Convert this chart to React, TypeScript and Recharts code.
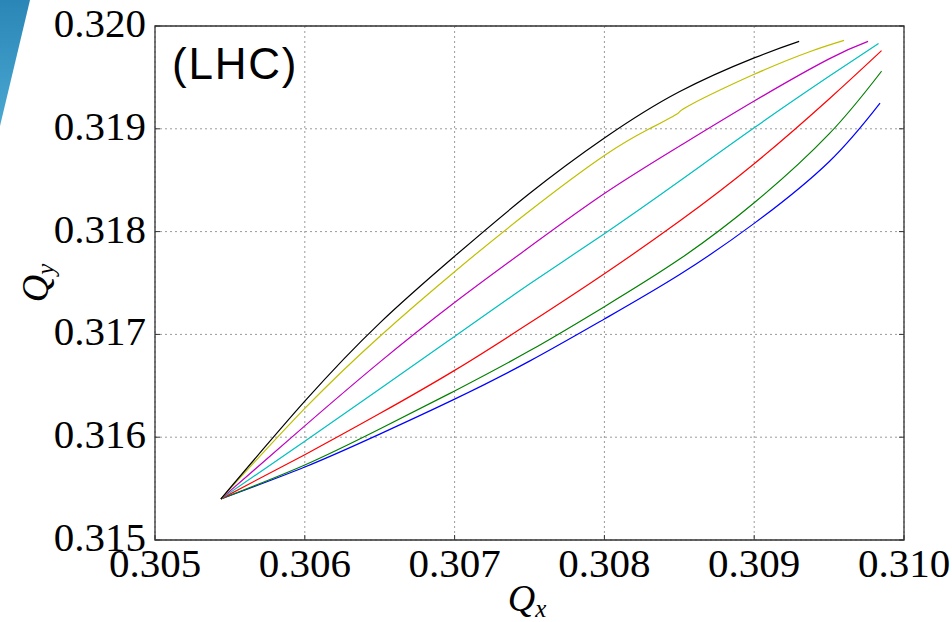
import React from 'react';
import { LineChart, Line, XAxis, YAxis, CartesianGrid, ReferenceArea } from 'recharts';

// tune footprint curves, Qx / Qy for each amplitude ratio
const xTicks = [0.305, 0.306, 0.307, 0.308, 0.309, 0.31];
const yTicks = [0.315, 0.316, 0.317, 0.318, 0.319, 0.32];

const qxBlack = [0.30544, 0.306, 0.3065, 0.307, 0.3075, 0.308, 0.3085, 0.309, 0.3093];
const qyBlack = [0.3154, 0.31635, 0.31711, 0.31776, 0.31837, 0.31891, 0.31936, 0.31969, 0.31985];

const qxYellow = [0.30544, 0.306, 0.3065, 0.307, 0.3075, 0.308, 0.3083, 0.30849, 0.30857, 0.309, 0.30937, 0.3096];
const qyYellow = [0.3154, 0.31628, 0.31698, 0.31761, 0.3182, 0.31874, 0.319, 0.31915, 0.31923, 0.31953, 0.31975, 0.31986];

const qxMagenta = [0.30544, 0.306, 0.3065, 0.307, 0.3075, 0.308, 0.3085, 0.309, 0.3095, 0.30976];
const qyMagenta = [0.3154, 0.31611, 0.31673, 0.31731, 0.31785, 0.31837, 0.31883, 0.31927, 0.31968, 0.31985];

const qxCyan = [0.30544, 0.306, 0.3065, 0.307, 0.3075, 0.308, 0.3085, 0.309, 0.3095, 0.30983];
const qyCyan = [0.3154, 0.31596, 0.31647, 0.31698, 0.31749, 0.31798, 0.31849, 0.31901, 0.31951, 0.31983];

const qxRed = [0.30544, 0.306, 0.3065, 0.307, 0.3075, 0.308, 0.3085, 0.309, 0.3095, 0.30985];
const qyRed = [0.3154, 0.31583, 0.31623, 0.31665, 0.31711, 0.31759, 0.3181, 0.31866, 0.31929, 0.31976];

const qxGreen = [0.30544, 0.306, 0.3065, 0.307, 0.3075, 0.308, 0.3085, 0.309, 0.3095, 0.30985];
const qyGreen = [0.3154, 0.31573, 0.31608, 0.31645, 0.31684, 0.31727, 0.31773, 0.31828, 0.31895, 0.31956];

const qxBlue = [0.30544, 0.306, 0.3065, 0.307, 0.3075, 0.308, 0.3085, 0.309, 0.3095, 0.30984];
const qyBlue = [0.3154, 0.31571, 0.31603, 0.31637, 0.31674, 0.31715, 0.31758, 0.31808, 0.31868, 0.31925];

const zip = (xs: number[], ys: number[]) => xs.map((x, i) => ({ x, y: ys[i] }));

const series = [
    { name: 'blue', color: '#0000ff', data: zip(qxBlue, qyBlue) },
    { name: 'green', color: '#008000', data: zip(qxGreen, qyGreen) },
    { name: 'red', color: '#ff0000', data: zip(qxRed, qyRed) },
    { name: 'cyan', color: '#00bfbf', data: zip(qxCyan, qyCyan) },
    { name: 'magenta', color: '#bf00bf', data: zip(qxMagenta, qyMagenta) },
    { name: 'yellow', color: '#bfbf00', data: zip(qxYellow, qyYellow) },
    { name: 'black', color: '#000000', data: zip(qxBlack, qyBlack) },
];

const SERIF = '"Liberation Serif", "DejaVu Serif", serif';
const FRAME = '#333';

const BottomTick = (props: any) => {
    const { x, y, payload } = props;
    return (
        <g>
            <line x1={x} y1={y} x2={x} y2={y - 5} stroke={FRAME} />
            <text x={x} y={y + 37} textAnchor="middle" fontFamily={SERIF} fontSize={41} fill="#000">
                {payload.value.toFixed(3)}
            </text>
        </g>
    );
};

const LeftTick = (props: any) => {
    const { x, y, payload } = props;
    return (
        <g>
            <line x1={x} y1={y} x2={x + 5} y2={y} stroke={FRAME} />
            <text x={x - 9} y={y + 11} textAnchor="end" fontFamily={SERIF} fontSize={41} fill="#000">
                {payload.value.toFixed(3)}
            </text>
        </g>
    );
};

const TopTick = (props: any) => {
    const { x, y } = props;
    return <line x1={x} y1={y} x2={x} y2={y + 5} stroke={FRAME} />;
};

const RightTick = (props: any) => {
    const { x, y } = props;
    return <line x1={x} y1={y} x2={x - 5} y2={y} stroke={FRAME} />;
};

export default function App() {
    return (
        <div style={{ position: 'absolute', left: 0, top: 0, width: 952, height: 622, background: '#fff' }}>
            <LineChart width={952} height={622} margin={{ top: 26, right: 0, bottom: 0, left: 0 }}>
                <CartesianGrid stroke="#9a9a9a" strokeDasharray="2 3" strokeWidth={1} />
                <XAxis
                    xAxisId={0}
                    dataKey="x"
                    type="number"
                    domain={[0.305, 0.31]}
                    ticks={xTicks}
                    allowDataOverflow
                    height={82}
                    axisLine={false}
                    tickLine={false}
                    tickSize={0}
                    tickMargin={0}
                    tick={<BottomTick />}
                    interval={0}
                />
                <XAxis
                    xAxisId="top"
                    orientation="top"
                    type="number"
                    domain={[0.305, 0.31]}
                    ticks={xTicks}
                    allowDataOverflow
                    height={0}
                    axisLine={false}
                    tickLine={false}
                    tickSize={0}
                    tickMargin={0}
                    tick={<TopTick />}
                    interval={0}
                />
                <YAxis
                    yAxisId={0}
                    type="number"
                    domain={[0.315, 0.32]}
                    ticks={yTicks}
                    allowDataOverflow
                    width={155}
                    axisLine={false}
                    tickLine={false}
                    tickSize={0}
                    tickMargin={0}
                    tick={<LeftTick />}
                    interval={0}
                />
                <YAxis
                    yAxisId="right"
                    orientation="right"
                    type="number"
                    domain={[0.315, 0.32]}
                    ticks={yTicks}
                    allowDataOverflow
                    width={48}
                    axisLine={false}
                    tickLine={false}
                    tickSize={0}
                    tickMargin={0}
                    tick={<RightTick />}
                    interval={0}
                />
                {series.map((s) => (
                    <Line
                        key={s.name}
                        data={s.data}
                        dataKey="y"
                        type="natural"
                        stroke={s.color}
                        strokeWidth={1.2}
                        dot={false}
                        isAnimationActive={false}
                    />
                ))}
                <ReferenceArea x1={0.305} x2={0.31} y1={0.315} y2={0.32} fill="none" stroke={FRAME} strokeWidth={1.3} />
            </LineChart>
            <svg width={952} height={622} style={{ position: 'absolute', left: 0, top: 0, pointerEvents: 'none' }}>
                <defs>
                    <linearGradient id="wedge" x1="0" y1="0" x2="0" y2="1">
                        <stop offset="0%" stopColor="#2a86b6" />
                        <stop offset="100%" stopColor="#4aa8d2" />
                    </linearGradient>
                </defs>
                <polygon points="0,0 30,0 0,126" fill="url(#wedge)" />
                <text x={172} y={79} fontFamily='"Liberation Sans", Arial, sans-serif' fontSize={44} letterSpacing={1.8} fill="#000">
                    (LHC)
                </text>
                <text x={527} y={611} textAnchor="middle" fontFamily={SERIF} fontStyle="italic" fontSize={38} fill="#000">
                    Q<tspan fontSize={25} dy={6}>x</tspan>
                </text>
                <text
                    x={48}
                    y={283}
                    textAnchor="middle"
                    fontFamily={SERIF}
                    fontStyle="italic"
                    fontSize={38}
                    fill="#000"
                    transform="rotate(-90 48 283)"
                >
                    Q<tspan fontSize={25} dy={6}>y</tspan>
                </text>
            </svg>
        </div>
    );
}
